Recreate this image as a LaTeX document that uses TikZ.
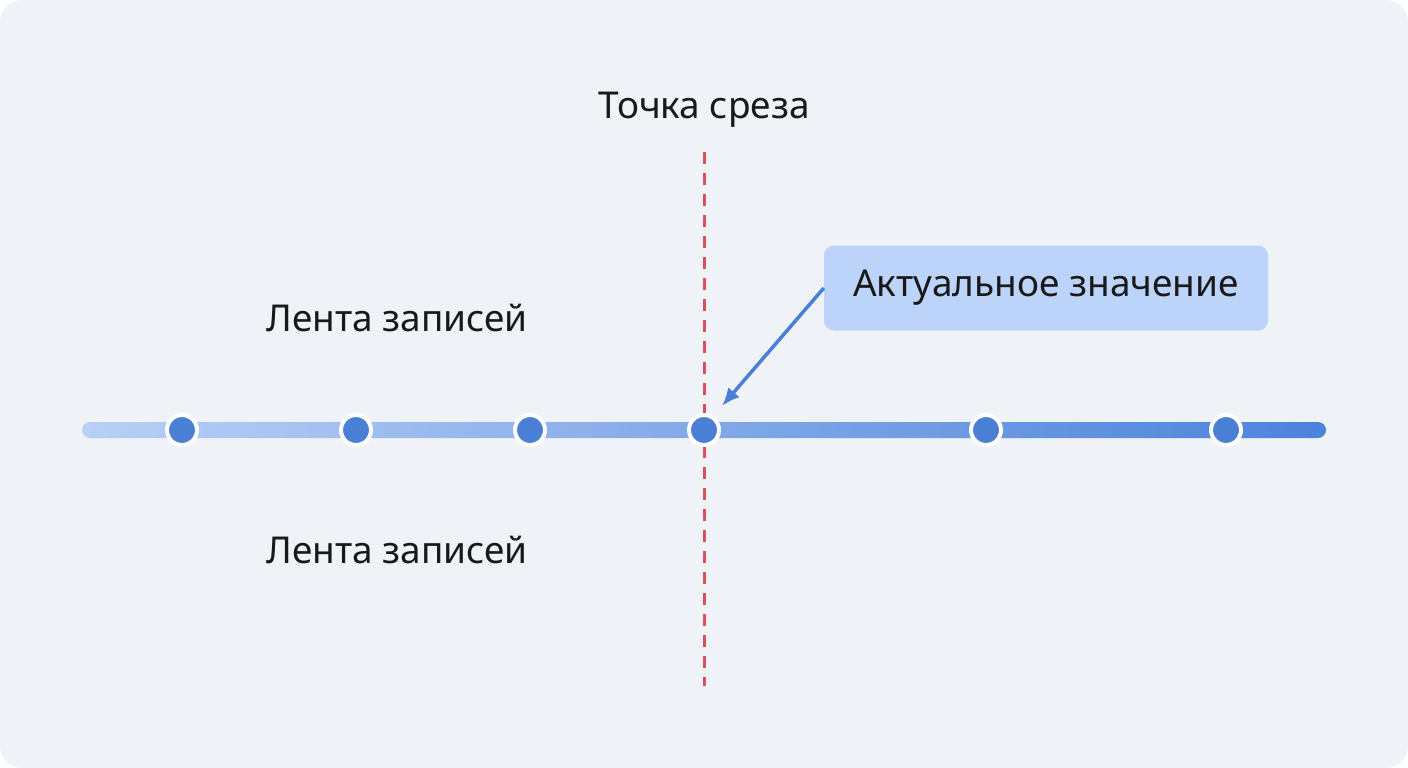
\documentclass[tikz,border=0pt]{standalone}
\usepackage{fontspec}
\usetikzlibrary{arrows.meta}
\setmainfont{Noto Sans}
\begin{document}
\begin{tikzpicture}[x=1pt,y=-1pt,
  dot/.style={circle,minimum size=30pt,inner sep=0pt,fill=dotc,draw=white,line width=4pt},
  lbl/.style={font=\fontsize{37}{42}\selectfont,text=black!90}]
\definecolor{bg}{HTML}{EFF2F6}
\definecolor{dotc}{HTML}{4A7FD6}
\definecolor{lineL}{HTML}{B8D0F6}
\definecolor{lineR}{HTML}{4C83DB}
\definecolor{cut}{HTML}{D9505A}
\definecolor{boxc}{HTML}{BDD4FA}
\useasboundingbox (0,0) rectangle (1408,768);
\fill[white] (0,0) rectangle (1408,768);
\fill[bg,rounded corners=22pt] (0,0) rectangle (1408,768);
\shade[left color=lineL,right color=lineR,rounded corners=8pt] (82,422) rectangle (1326,438);
\draw[cut,line width=3pt,dash pattern=on 12pt off 9pt] (704,152) -- (704,686);
\foreach \n/\x in {d1/182,d2/356,d3/530,d4/704,d5/986,d6/1226}
  \node[dot] (\n) at (\x,430) {};
\node[lbl] (title) at (704,110) {Точка среза};
\node[lbl] (top) at (397,318) {Лента записей};
\node[lbl] (bot) at (397,550) {Лента записей};
\node[lbl,fill=boxc,rounded corners=10pt,minimum width=444pt,minimum height=85pt] (box) at (1046,288) {Актуальное значение};
\draw[dotc,line width=3.5pt,-{Latex[length=18pt,width=15pt]}] (box.west) -- ([shift={(18pt,24pt)}]d4.center);
\end{tikzpicture}
\end{document}
